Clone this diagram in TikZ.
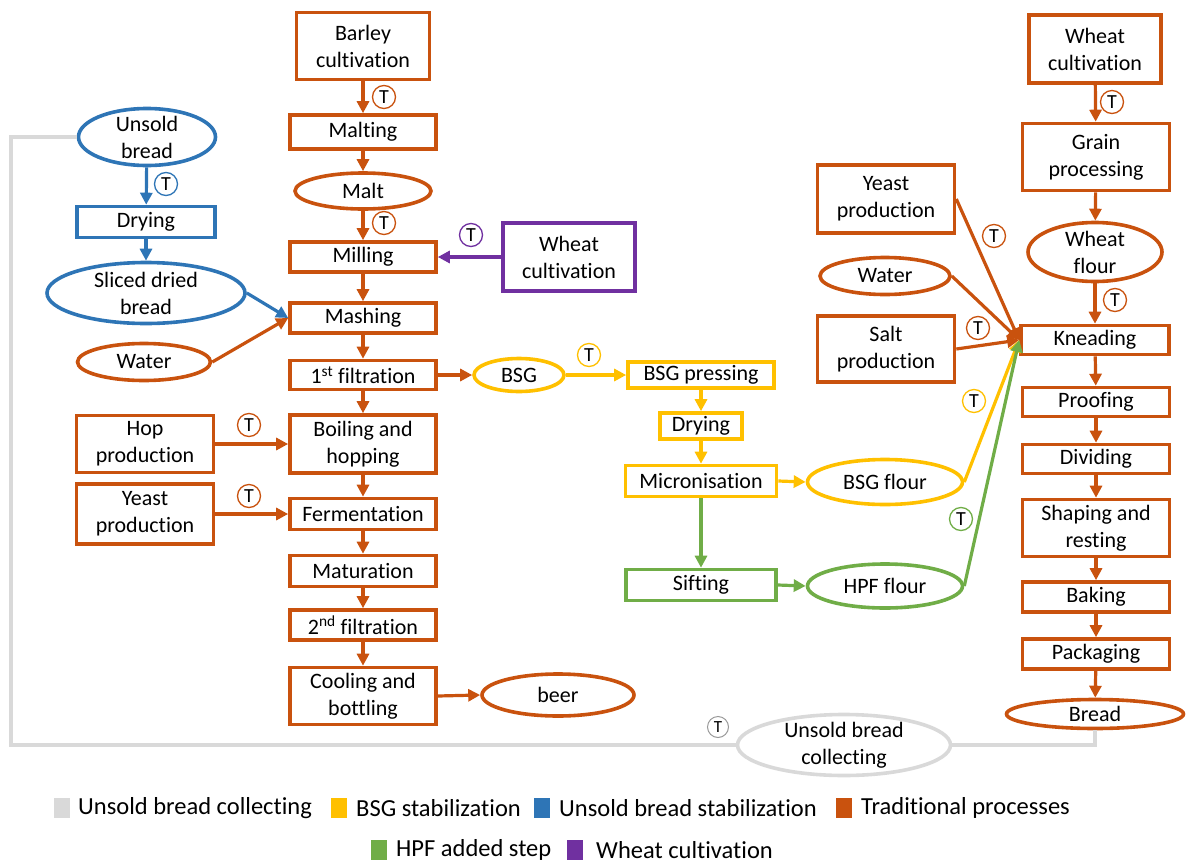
\documentclass[tikz,border=0pt]{standalone}
\usepackage{fontspec}
\setmainfont{Carlito}[Ligatures={NoCommon}]
\usetikzlibrary{arrows.meta,shapes.geometric}
\definecolor{cOr}{RGB}{201,82,14}
\definecolor{cYe}{RGB}{255,192,0}
\definecolor{cBl}{RGB}{46,117,182}
\definecolor{cGr}{RGB}{112,173,71}
\definecolor{cPu}{RGB}{112,48,160}
\definecolor{cGy}{RGB}{217,217,217}
\begin{document}
\begin{tikzpicture}[x=1pt,y=-1pt,
  base/.style={line width=3.6pt, align=center, inner sep=0pt, text=black,
    font=\fontsize{22}{27}\selectfont},
  box/.style={base, rectangle, draw},
  oval/.style={base, ellipse, draw},
  lbl/.style={align=center, inner sep=0pt, text=black, font=\fontsize{22}{27}\selectfont},
  conn/.style={line width=3.2pt, -{Triangle[length=12pt,width=12pt]}},
  plain/.style={line width=3.2pt},
  tmark/.style={circle, draw, line width=1.3pt, minimum size=23pt, inner sep=0pt,
    text=black, fill=white, font=\fontsize{20}{20}\selectfont},
  lsq/.style={rectangle, minimum width=16pt, minimum height=20pt, inner sep=0pt},
  ltxt/.style={anchor=west, inner sep=0pt, text=black, font=\fontsize{24.5}{26}\selectfont}
]
\useasboundingbox (0,0) rectangle (1187,865);

% ---------- brewing column ----------
\begin{scope}[every node/.append style={draw=cOr}]
\node[box, minimum width=133pt, minimum height=67pt] (barley) at (363,46) {Barley\\cultivation};
\node[box, minimum width=146pt, minimum height=34pt] (malting) at (363,132) {Malting};
\node[oval, minimum width=136pt, minimum height=36pt, label={[lbl]center:Malt}] (malt) at (363,191) {};
\node[box, minimum width=146pt, minimum height=30pt] (milling) at (363,257) {Milling};
\node[box, minimum width=146pt, minimum height=30pt] (mashing) at (363,318) {Mashing};
\node[box, minimum width=146pt, minimum height=29pt] (filt1) at (363,375) {1\textsuperscript{st} filtration};
\node[box, minimum width=146pt, minimum height=58pt] (boiling) at (363,444) {Boiling and\\hopping};
\node[box, minimum width=146pt, minimum height=31pt] (ferm) at (363,514) {Fermentation};
\node[box, minimum width=146pt, minimum height=31pt] (matur) at (363,571) {Maturation};
\node[box, minimum width=146pt, minimum height=30pt] (filt2) at (363,625) {2\textsuperscript{nd} filtration};
\node[box, minimum width=146pt, minimum height=57pt] (cooling) at (363,696) {Cooling and\\bottling};
\node[oval, minimum width=152pt, minimum height=42pt, label={[lbl]center:beer}] (beer) at (558,695) {};

% inputs on the left
\node[oval, minimum width=133pt, minimum height=37pt, label={[lbl]center:Water}] (water) at (144,362) {};
\node[box, minimum width=137pt, minimum height=57pt] (hop) at (145,444) {Hop\\production};
\node[box, minimum width=137pt, minimum height=60pt] (yeast) at (145,514) {Yeast\\production};

% ---------- bread column ----------
\node[box, minimum width=132pt, minimum height=68pt] (wcult) at (1095,49) {Wheat\\cultivation};
\node[box, minimum width=147pt, minimum height=67pt] (grain) at (1096,157) {Grain\\processing};
\node[oval, minimum width=134pt, minimum height=59pt, label={[lbl]center:{Wheat\\flour}}] (wflour) at (1095,252) {};
\node[box, minimum width=137pt, minimum height=68pt] (yeastb) at (886,199) {Yeast\\production};
\node[oval, minimum width=130pt, minimum height=37pt, label={[lbl]center:Water}] (waterb) at (885,276) {};
\node[box, minimum width=137pt, minimum height=66pt] (salt) at (886,349) {Salt\\production};
\node[box, minimum width=148pt, minimum height=29pt] (knead) at (1095,340) {Kneading};
\node[box, minimum width=147pt, minimum height=29pt] (proof) at (1096,402) {Proofing};
\node[box, minimum width=147pt, minimum height=29pt] (divid) at (1096,459) {Dividing};
\node[box, minimum width=147pt, minimum height=57pt] (shape) at (1096,528) {Shaping and\\resting};
\node[box, minimum width=147pt, minimum height=30pt] (bake) at (1096,597) {Baking};
\node[box, minimum width=147pt, minimum height=30pt] (pack) at (1096,654) {Packaging};
\node[oval, minimum width=177pt, minimum height=29pt, label={[lbl]center:Bread}] (bread) at (1095,714) {};
\end{scope}

% ---------- unsold bread stabilization ----------
\begin{scope}[every node/.append style={draw=cBl}]
\node[oval, minimum width=137pt, minimum height=57pt, label={[lbl]center:{Unsold\\bread}}] (unsold) at (147,137) {};
\node[box, minimum width=138pt, minimum height=31pt] (dryb) at (146,222) {Drying};
\node[oval, minimum width=198pt, minimum height=61pt, label={[lbl]center:{Sliced dried\\bread}}] (sliced) at (146,293) {};
\end{scope}

% ---------- wheat cultivation ----------
\node[box, draw=cPu, minimum width=132pt, minimum height=68pt] (wheatp) at (569,257) {Wheat\\cultivation};

% ---------- BSG stabilization ----------
\begin{scope}[every node/.append style={draw=cYe}]
\node[oval, minimum width=90pt, minimum height=33pt, label={[lbl]center:BSG}] (bsg) at (519,375) {};
\node[box, minimum width=146pt, minimum height=26pt] (press) at (701,375) {BSG pressing};
\node[box, minimum width=82pt, minimum height=26pt] (dryy) at (701,426) {Drying};
\node[box, minimum width=151pt, minimum height=31pt] (micro) at (701,481) {Micronisation};
\node[oval, minimum width=155pt, minimum height=45pt, label={[lbl]center:BSG flour}] (bsgf) at (885,482) {};
\end{scope}

% ---------- HPF added step ----------
\begin{scope}[every node/.append style={draw=cGr}]
\node[box, minimum width=150pt, minimum height=31pt] (sift) at (701,585) {Sifting};
\node[oval, minimum width=155pt, minimum height=44pt, label={[lbl]center:HPF flour}] (hpf) at (885,586) {};
\end{scope}

% ---------- unsold bread collecting ----------
\node[oval, draw=cGy, minimum width=213pt, minimum height=61pt, label={[lbl]center:{Unsold bread\\collecting}}] (collect) at (844,745) {};
\coordinate (gl) at (11,440);
\draw[plain, cGy] (unsold.west) -| (gl) |- (collect.west);
\draw[plain, cGy] (collect.east) -| (bread.south);

% ---------- connectors ----------
\begin{scope}[cOr]
\draw[conn] (barley) -- (malting);
\draw[conn] (malting) -- (malt);
\draw[conn] (malt) -- (milling);
\draw[conn] (milling) -- (mashing);
\draw[conn] (mashing) -- (filt1);
\draw[conn] (filt1) -- (boiling);
\draw[conn] (boiling) -- (ferm);
\draw[conn] (ferm) -- (matur);
\draw[conn] (matur) -- (filt2);
\draw[conn] (filt2) -- (cooling);
\draw[conn] (cooling.east) -- (beer.west);
\draw[conn] (water.east) -- (mashing.west);
\draw[conn] (hop.east) -- (boiling.west);
\draw[conn] (yeast.east) -- (ferm.west);
\draw[conn] (filt1.east) -- (bsg.west);
\draw[conn] (wcult) -- (grain);
\draw[conn] (grain) -- (wflour);
\draw[conn] (wflour) -- (knead);
\draw[conn] (yeastb.east) -- (knead.west);
\draw[conn] (waterb.east) -- (knead.west);
\draw[conn] (salt.east) -- (knead.west);
\draw[conn] (knead) -- (proof);
\draw[conn] (proof) -- (divid);
\draw[conn] (divid) -- (shape);
\draw[conn] (shape) -- (bake);
\draw[conn] (bake) -- (pack);
\draw[conn] (pack) -- (bread);
\end{scope}
\begin{scope}[cBl]
\draw[conn] (unsold) -- (dryb);
\draw[conn] (dryb) -- (sliced);
\draw[conn] (sliced.east) -- (mashing.west);
\end{scope}
\draw[conn, cPu] (wheatp.west) -- (milling.east);
\begin{scope}[cYe]
\draw[conn] (bsg.east) -- (press.west);
\draw[conn] (press) -- (dryy);
\draw[conn] (dryy) -- (micro);
\draw[conn] (micro.east) -- (bsgf.west);
\draw[conn] (bsgf.east) -- (knead.west);
\end{scope}
\begin{scope}[cGr]
\draw[conn] (micro) -- (sift);
\draw[conn] (sift.east) -- (hpf.west);
\draw[conn] (hpf.east) -- (knead.west);
\end{scope}

% ---------- transport marks ----------
\node[tmark, draw=cOr] (t1) at (384,97) {T};
\node[tmark, draw=cOr] (t2) at (384,223) {T};
\node[tmark, draw=cBl] (t3) at (166,184) {T};
\node[tmark, draw=cPu] (t4) at (471,235) {T};
\node[tmark, draw=cOr] (t5) at (249,425) {T};
\node[tmark, draw=cOr] (t6) at (249,496) {T};
\node[tmark, draw=cYe] (t7) at (589,355) {T};
\node[tmark, draw=cOr] (t8) at (1112,102) {T};
\node[tmark, draw=cOr] (t9) at (1115,300) {T};
\node[tmark, draw=cOr] (t10) at (994,236) {T};
\node[tmark, draw=cOr] (t11) at (978,328) {T};
\node[tmark, draw=cYe] (t12) at (974,401) {T};
\node[tmark, draw=cGr] (t13) at (961,519) {T};
\node[tmark, draw=gray!80, line width=1pt, minimum size=21pt, font=\fontsize{17}{17}\selectfont] (t14) at (718,727) {T};

% ---------- legend ----------
\node[lsq, fill=cGy] (lq1) at (62,808) {};
\node[ltxt] (lt1) at (78,808) {Unsold bread collecting};
\node[lsq, fill=cYe] (lq2) at (339,808) {};
\node[ltxt] (lt2) at (356,808) {BSG stabilization};
\node[lsq, fill=cBl] (lq3) at (542,808) {};
\node[ltxt] (lt3) at (559,808) {Unsold bread stabilization};
\node[lsq, fill=cOr] (lq4) at (844,808) {};
\node[ltxt] (lt4) at (861,808) {Traditional processes};
\node[lsq, fill=cGr] (lq5) at (379,850) {};
\node[ltxt] (lt5) at (396,850) {HPF added step};
\node[lsq, fill=cPu] (lq6) at (575,850) {};
\node[ltxt] (lt6) at (596,850) {Wheat cultivation};
\end{tikzpicture}
\end{document}
